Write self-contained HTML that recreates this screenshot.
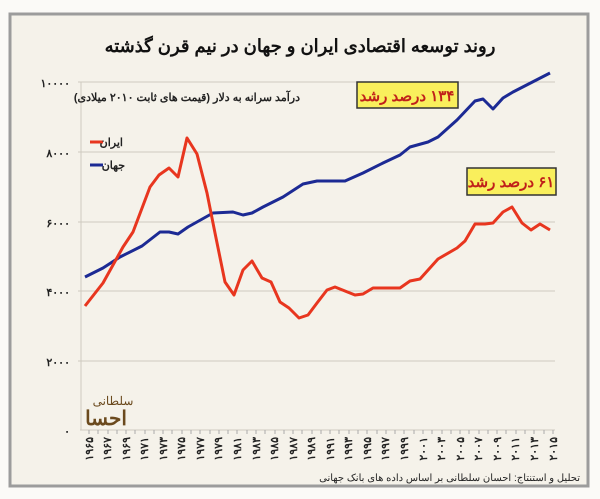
<!DOCTYPE html>
<html><head><meta charset="utf-8"><style>
html,body{margin:0;padding:0;background:#fbfaf7;}
body{width:600px;height:499px;position:relative;overflow:hidden;font-family:"Liberation Sans","Noto Sans CJK SC",sans-serif;}
</style></head><body>
<svg width="600" height="499" viewBox="0 0 600 499" xmlns="http://www.w3.org/2000/svg" style="position:absolute;left:0;top:0">
<rect x="10" y="14" width="578" height="472" fill="#f5f2ea" stroke="#9c9c9c" stroke-width="3"/>
<text x="300" y="52" text-anchor="middle" font-size="18" font-weight="bold" fill="#111" font-family="'Liberation Sans','Noto Sans CJK SC',sans-serif" direction="rtl">روند توسعه اقتصادی ایران و جهان در نیم قرن گذشته</text>
<g stroke="#cfcac0" stroke-width="1">
<line x1="78" y1="82" x2="555" y2="82"/>
<line x1="78" y1="152" x2="555" y2="152"/>
<line x1="78" y1="222" x2="555" y2="222"/>
<line x1="78" y1="291" x2="555" y2="291"/>
<line x1="78" y1="361" x2="555" y2="361"/>
<line x1="80" y1="430" x2="555" y2="430"/>
<line x1="81" y1="82" x2="81" y2="430"/>
</g>
<g stroke="#aaa" stroke-width="1">
<line x1="89" y1="430" x2="89" y2="434"/><line x1="98" y1="430" x2="98" y2="434"/><line x1="108" y1="430" x2="108" y2="434"/><line x1="117" y1="430" x2="117" y2="434"/><line x1="126" y1="430" x2="126" y2="434"/><line x1="135" y1="430" x2="135" y2="434"/><line x1="145" y1="430" x2="145" y2="434"/><line x1="154" y1="430" x2="154" y2="434"/><line x1="163" y1="430" x2="163" y2="434"/><line x1="172" y1="430" x2="172" y2="434"/><line x1="182" y1="430" x2="182" y2="434"/><line x1="191" y1="430" x2="191" y2="434"/><line x1="200" y1="430" x2="200" y2="434"/><line x1="210" y1="430" x2="210" y2="434"/><line x1="219" y1="430" x2="219" y2="434"/><line x1="228" y1="430" x2="228" y2="434"/><line x1="237" y1="430" x2="237" y2="434"/><line x1="247" y1="430" x2="247" y2="434"/><line x1="256" y1="430" x2="256" y2="434"/><line x1="265" y1="430" x2="265" y2="434"/><line x1="275" y1="430" x2="275" y2="434"/><line x1="284" y1="430" x2="284" y2="434"/><line x1="293" y1="430" x2="293" y2="434"/><line x1="302" y1="430" x2="302" y2="434"/><line x1="312" y1="430" x2="312" y2="434"/><line x1="321" y1="430" x2="321" y2="434"/><line x1="330" y1="430" x2="330" y2="434"/><line x1="339" y1="430" x2="339" y2="434"/><line x1="349" y1="430" x2="349" y2="434"/><line x1="358" y1="430" x2="358" y2="434"/><line x1="367" y1="430" x2="367" y2="434"/><line x1="377" y1="430" x2="377" y2="434"/><line x1="386" y1="430" x2="386" y2="434"/><line x1="395" y1="430" x2="395" y2="434"/><line x1="404" y1="430" x2="404" y2="434"/><line x1="414" y1="430" x2="414" y2="434"/><line x1="423" y1="430" x2="423" y2="434"/><line x1="432" y1="430" x2="432" y2="434"/><line x1="442" y1="430" x2="442" y2="434"/><line x1="451" y1="430" x2="451" y2="434"/><line x1="460" y1="430" x2="460" y2="434"/><line x1="469" y1="430" x2="469" y2="434"/><line x1="479" y1="430" x2="479" y2="434"/><line x1="488" y1="430" x2="488" y2="434"/><line x1="497" y1="430" x2="497" y2="434"/><line x1="506" y1="430" x2="506" y2="434"/><line x1="516" y1="430" x2="516" y2="434"/><line x1="525" y1="430" x2="525" y2="434"/><line x1="534" y1="430" x2="534" y2="434"/><line x1="544" y1="430" x2="544" y2="434"/><line x1="553" y1="430" x2="553" y2="434"/>
</g>
<g font-size="11" font-weight="bold" fill="#222" text-anchor="end" font-family="'Liberation Sans','Noto Sans CJK SC',sans-serif">
<text x="70" y="87">۱۰۰۰۰</text>
<text x="70" y="157">۸۰۰۰</text>
<text x="70" y="227">۶۰۰۰</text>
<text x="70" y="296">۴۰۰۰</text>
<text x="70" y="366">۲۰۰۰</text>
<text x="70" y="435">۰</text>
</g>
<g font-size="11" font-weight="bold" fill="#222" text-anchor="end" font-family="'Liberation Sans','Noto Sans CJK SC',sans-serif">
<text transform="translate(93,437) rotate(-90)">۱۹۶۵</text>
<text transform="translate(111,437) rotate(-90)">۱۹۶۷</text>
<text transform="translate(130,437) rotate(-90)">۱۹۶۹</text>
<text transform="translate(148,437) rotate(-90)">۱۹۷۱</text>
<text transform="translate(167,437) rotate(-90)">۱۹۷۳</text>
<text transform="translate(185,437) rotate(-90)">۱۹۷۵</text>
<text transform="translate(204,437) rotate(-90)">۱۹۷۷</text>
<text transform="translate(222,437) rotate(-90)">۱۹۷۹</text>
<text transform="translate(241,437) rotate(-90)">۱۹۸۱</text>
<text transform="translate(260,437) rotate(-90)">۱۹۸۳</text>
<text transform="translate(278,437) rotate(-90)">۱۹۸۵</text>
<text transform="translate(297,437) rotate(-90)">۱۹۸۷</text>
<text transform="translate(315,437) rotate(-90)">۱۹۸۹</text>
<text transform="translate(334,437) rotate(-90)">۱۹۹۱</text>
<text transform="translate(352,437) rotate(-90)">۱۹۹۳</text>
<text transform="translate(371,437) rotate(-90)">۱۹۹۵</text>
<text transform="translate(389,437) rotate(-90)">۱۹۹۷</text>
<text transform="translate(408,437) rotate(-90)">۱۹۹۹</text>
<text transform="translate(427,437) rotate(-90)">۲۰۰۱</text>
<text transform="translate(445,437) rotate(-90)">۲۰۰۳</text>
<text transform="translate(464,437) rotate(-90)">۲۰۰۵</text>
<text transform="translate(482,437) rotate(-90)">۲۰۰۷</text>
<text transform="translate(501,437) rotate(-90)">۲۰۰۹</text>
<text transform="translate(519,437) rotate(-90)">۲۰۱۱</text>
<text transform="translate(538,437) rotate(-90)">۲۰۱۳</text>
<text transform="translate(557,437) rotate(-90)">۲۰۱۵</text>
</g>
<text x="300" y="101" text-anchor="start" font-size="11" font-weight="bold" fill="#222" direction="rtl" font-family="'Liberation Sans','Noto Sans CJK SC',sans-serif">درآمد سرانه به دلار (قیمت های ثابت ۲۰۱۰ میلادی)</text>
<polyline fill="none" stroke="#1c2a94" stroke-width="3" stroke-linejoin="round" points="85,277 103,268 120,257 142,246 160,232 169,232 178,234 188,227 213,213 233,212 243,215 252,213 263,207 283,197 303,184 317,181 345,181 363,173 383,163 400,155 410,147 428,142 438,137 457,120 475,101 483,99 493,109 503,98 513,92 550,73"/>
<polyline fill="none" stroke="#e8361f" stroke-width="3" stroke-linejoin="round" points="85,306 103,283 123,247 133,232 150,187 159,175 169,168 178,177 187,138 197,154 207,193 215,233 225,282 234,295 243,270 252,261 262,278 271,282 280,302 289,308 299,318 308,315 317,303 327,290 335,287 355,295 363,294 373,288 400,288 410,281 420,279 438,259 457,248 465,241 475,224 485,224 493,223 503,212 512,207 522,223 531,230 540,224 550,230"/>
<line x1="90" y1="142" x2="103" y2="142" stroke="#e8361f" stroke-width="3"/>
<text x="123" y="146" text-anchor="end" font-size="11" font-weight="bold" fill="#222" font-family="'Liberation Sans','Noto Sans CJK SC',sans-serif">ایران</text>
<line x1="90" y1="165" x2="103" y2="165" stroke="#1c2a94" stroke-width="3"/>
<text x="125" y="169" text-anchor="end" font-size="11" font-weight="bold" fill="#222" font-family="'Liberation Sans','Noto Sans CJK SC',sans-serif">جهان</text>
<rect x="357" y="82" width="101" height="26" fill="#f9ef5c" stroke="#333" stroke-width="1.5"/>
<text x="407" y="101" text-anchor="middle" font-size="15" font-weight="bold" fill="#c0201a" direction="rtl" font-family="'Liberation Sans','Noto Sans CJK SC',sans-serif">۱۳۴ درصد رشد</text>
<rect x="467" y="168" width="89" height="27" fill="#f9ef5c" stroke="#333" stroke-width="1.5"/>
<text x="511" y="187" text-anchor="middle" font-size="15" font-weight="bold" fill="#c0201a" direction="rtl" font-family="'Liberation Sans','Noto Sans CJK SC',sans-serif">۶۱ درصد رشد</text>
<text x="106" y="425" text-anchor="middle" font-size="20" font-weight="bold" fill="#6b4a1e" font-family="'Liberation Serif','Noto Serif CJK SC',serif">احسا</text>
<text x="113" y="405" text-anchor="middle" font-size="12" fill="#6b4a1e" font-family="'Liberation Serif','Noto Serif CJK SC',serif">سلطانی</text>
<text x="580" y="481" text-anchor="start" font-size="10" fill="#222" direction="rtl" font-family="'Liberation Sans','Noto Sans CJK SC',sans-serif">تحلیل و استنتاج: احسان سلطانی بر اساس داده های بانک جهانی</text>
</svg>
</body></html>
